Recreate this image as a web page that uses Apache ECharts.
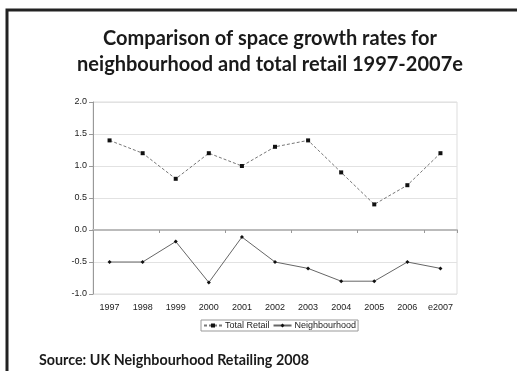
<!DOCTYPE html>
<html>
<head>
<meta charset="utf-8">
<script src="https://cdn.jsdelivr.net/npm/echarts@6/dist/echarts.min.js"></script>
<style>
html, body { margin: 0; padding: 0; background: #fff; }
#chart { width: 517px; height: 371px; }
</style>
</head>
<body>
<div id="chart"></div>
<script>
var years = ["1997", "1998", "1999", "2000", "2001", "2002", "2003", "2004", "2005", "2006", "e2007"];
var totalRetail = [1.4, 1.2, 0.8, 1.2, 1.0, 1.3, 1.4, 0.9, 0.4, 0.7, 1.2];
var neighbourhood = [-0.5, -0.5, -0.18, -0.82, -0.11, -0.5, -0.6, -0.8, -0.8, -0.5, -0.6];
var seriesNames = ["Total Retail", "Neighbourhood"];

var myChart = echarts.init(document.getElementById("chart"), null, { renderer: "canvas" });
var axisFont = "'Liberation Sans', Arial, sans-serif";

var option = {
    animation: false,
    backgroundColor: "#fff",
    title: [{
        text: "Comparison of space growth rates for\nneighbourhood and total retail 1997-2007e",
        left: 265,
        textAlign: "center",
        top: 21,
        textStyle: {
            fontFamily: "Lato",
            fontWeight: "bold",
            fontSize: 20,
            lineHeight: 26,
            color: "#1a1a1a"
        }
    }, {
        text: "Source: UK Neighbourhood Retailing 2008",
        left: 34,
        top: 348,
        textStyle: {
            fontFamily: "Lato",
            fontWeight: "bold",
            fontSize: 14.3,
            color: "#1a1a1a"
        }
    }],
    graphic: [{
        type: "polyline",
        shape: { points: [[7, 371], [7, 10], [517, 10]] },
        style: { stroke: "#222", lineWidth: 3, fill: null }
    }],
    legend: {
        data: seriesNames,
        left: 201,
        top: 320,
        itemWidth: 18,
        itemHeight: 5,
        itemGap: 3,
        padding: [1, 2],
        borderColor: "#999",
        borderWidth: 1,
        textStyle: { fontFamily: axisFont, fontSize: 9, color: "#222", padding: [0, 0, 0, -2] }
    },
    grid: {
        left: 93,
        right: 60,
        top: 102,
        bottom: 77,
        show: true,
        borderColor: "#ddd",
        borderWidth: 1
    },
    xAxis: [{
        type: "category",
        data: years,
        boundaryGap: true,
        position: "bottom",
        axisLine: { show: false, onZero: false },
        axisTick: { show: false },
        axisLabel: { fontFamily: axisFont, fontSize: 9, color: "#222", margin: 9 }
    }, {
        type: "category",
        data: years,
        boundaryGap: true,
        position: "bottom",
        axisLine: { show: true, onZero: true, lineStyle: { color: "#bbb", width: 2 } },
        axisTick: { show: true, length: 3, lineStyle: { color: "#999" } },
        axisLabel: { show: false }
    }],
    yAxis: {
        type: "value",
        min: -1,
        max: 2,
        interval: 0.5,
        axisLine: { show: true, lineStyle: { color: "#999" } },
        axisTick: { show: true, length: 4, lineStyle: { color: "#999" } },
        axisLabel: {
            fontFamily: axisFont,
            fontSize: 9,
            color: "#222",
            margin: 6,
            formatter: function(v) { return v.toFixed(1); }
        },
        splitLine: { show: true, lineStyle: { color: "#e2e2e2", width: 1 } }
    },
    series: [{
        name: seriesNames[0],
        type: "line",
        data: totalRetail,
        symbol: "rect",
        symbolSize: 4,
        itemStyle: { color: "#111" },
        lineStyle: { color: "#777", width: 1, type: [3, 2] }
    }, {
        name: seriesNames[1],
        type: "line",
        data: neighbourhood,
        symbol: "diamond",
        symbolSize: 4,
        itemStyle: { color: "#111" },
        lineStyle: { color: "#666", width: 1 }
    }]
};
myChart.setOption(option);
</script>
</body>
</html>
